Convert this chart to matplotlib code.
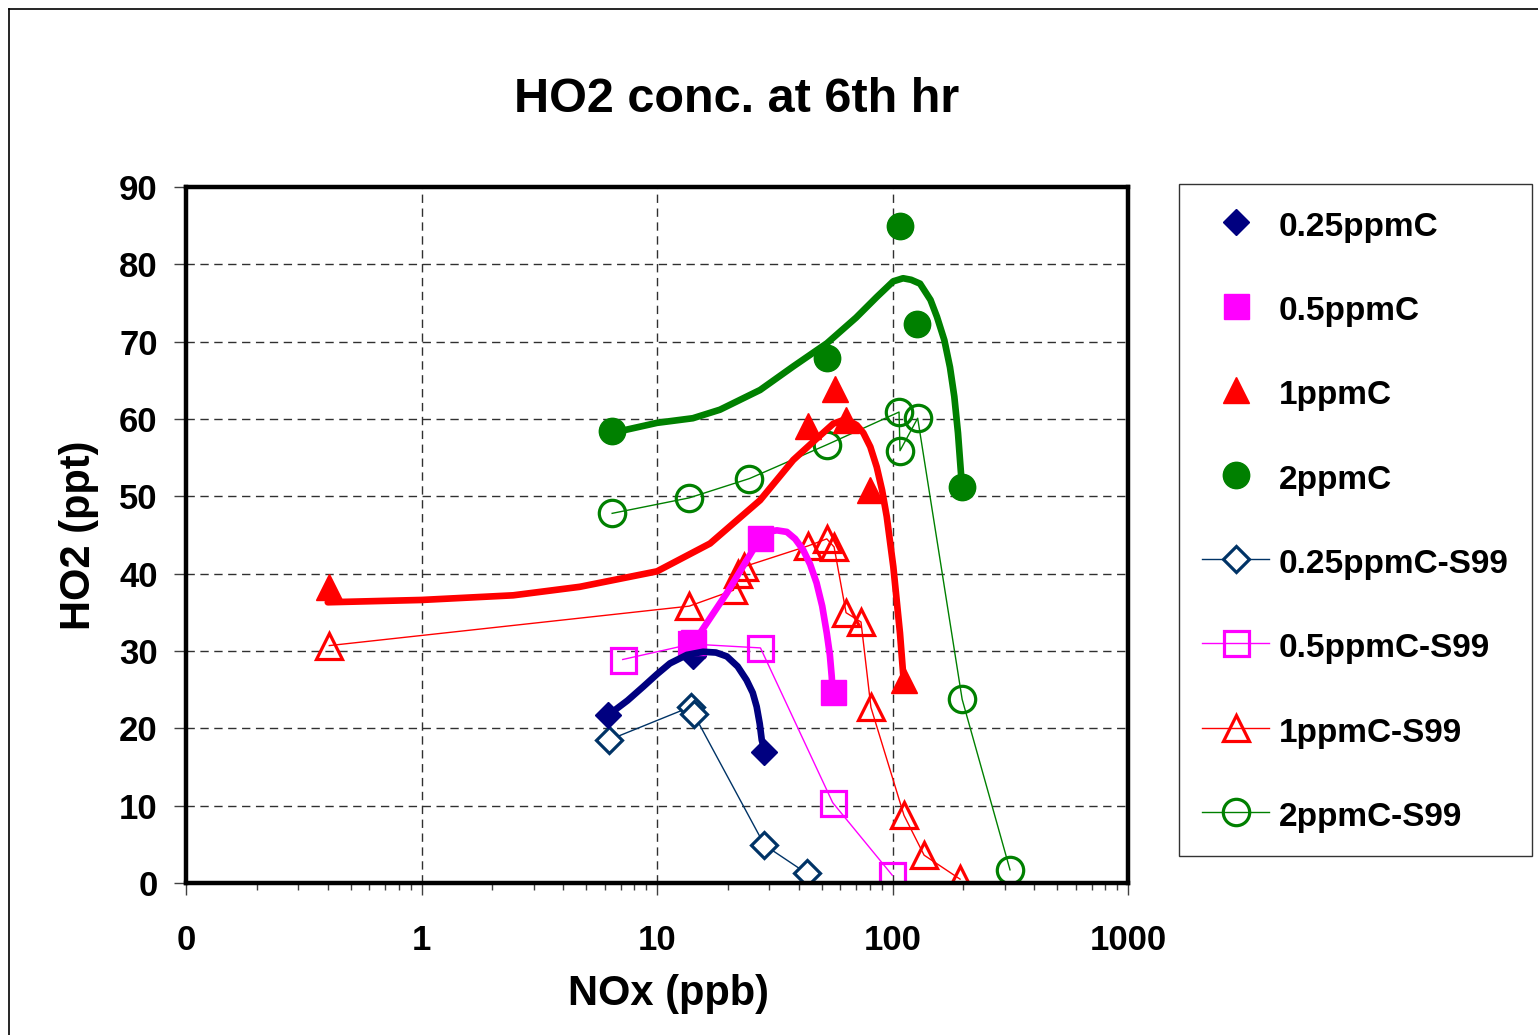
import numpy as np
import matplotlib.pyplot as plt
from matplotlib.lines import Line2D
from matplotlib.ticker import LogLocator, NullFormatter

plt.rcParams['font.family'] = ['Liberation Sans', 'DejaVu Sans']
plt.rcParams['font.weight'] = 'bold'

# ---- data ----
# filled series (base case)
nox_025 = [6.2, 14.2, 28.6]
ho2_025 = [21.7, 29.3, 17.0]
nox_05 = [14.2, 27.5, 55.7]
ho2_05 = [31.2, 44.6, 24.7]
nox_1 = [0.406, 43.9, 57.0, 63.5, 80.3, 112.2]
ho2_1 = [38.3, 59.1, 63.9, 59.9, 50.8, 26.2]
nox_2 = [6.45, 52.9, 107.6, 127.0, 197.6]
ho2_2 = [58.5, 67.9, 84.9, 72.3, 51.2]

# S99 series
nox_025s = [6.25, 13.95, 14.3, 28.6, 43.2]
ho2_025s = [18.5, 22.8, 21.9, 4.9, 1.25]
nox_05s = [7.15, 14.0, 27.5, 55.7, 99.8]
ho2_05s = [28.9, 30.9, 30.4, 10.4, 1.0]
nox_1s = [0.406, 13.7, 21.1, 22.1, 23.4, 43.9, 52.6, 56.5, 63.5, 73.5, 81.0, 111.9, 136.2, 193.6]
ho2_1s = [30.7, 35.8, 37.85, 40.0, 40.9, 43.6, 44.5, 43.45, 34.95, 33.75, 22.7, 8.75, 3.6, 0.5]
nox_2s = [6.45, 13.7, 24.7, 52.9, 106.6, 107.6, 127.9, 197.6, 315.5]
ho2_2s = [47.8, 49.8, 52.3, 56.7, 60.9, 55.9, 60.1, 23.75, 1.7]

# trend curves (traced)
cx_025 = [6.2, 7.5, 8.75, 10, 11.35, 13.4, 15.7, 17.8, 19.8, 22, 24.0, 25.5, 26.5, 27.3, 27.85, 28.6]
cy_025 = [21.7, 23.6, 25.4, 27.0, 28.4, 29.5, 29.9, 29.8, 29.3, 28.0, 26.25, 24.6, 22.8, 20.6, 18.5, 17.2]
cx_05 = [14.2, 15.23, 19.8, 25.6, 27.5, 29.2, 32.3, 35.6, 38.6, 41.7, 44.7, 47.6, 50.3, 52.6, 54.2, 55.2, 55.7]
cy_05 = [31.4, 32.3, 37.5, 43.1, 44.6, 45.4, 45.6, 45.4, 44.5, 43.1, 41.2, 38.8, 35.8, 32.3, 29.5, 26.7, 24.7]
cx_1 = [0.40, 1.0, 2.45, 4.7, 10, 16.8, 27.4, 37.9, 47, 56.1, 61, 66, 70.5, 75.2, 80.5, 85.7, 90.3, 94.5, 100.8, 107.6, 111]
cy_1 = [36.3, 36.6, 37.2, 38.3, 40.3, 43.9, 49.5, 54.7, 57.3, 59.4, 59.8, 59.7, 59.2, 58.2, 56.4, 53.8, 50.8, 47.4, 40.9, 32.3, 27.0]
cx_2 = [6.44, 10, 14.2, 18.5, 27.4, 37.9, 52.7, 70, 85.9, 100.7, 110.9, 120, 130.9, 145, 154.5, 166, 175.4, 183, 189.7, 197.3]
cy_2 = [58.2, 59.5, 60.1, 61.2, 63.75, 66.8, 69.8, 73.1, 75.8, 77.8, 78.2, 78.0, 77.5, 75.4, 73.2, 70.2, 66.7, 62.9, 58.2, 51.2]

navy = '#000080'
navy2 = '#003366'
pink = '#FF00FF'
red = '#FF0000'
green = '#008000'

fig = plt.figure(figsize=(15.38, 10.35), dpi=100)
ax = fig.add_axes([186/1538, 1-883/1035, (1128-186)/1538, (883-187)/1035])

# S99 series (thin lines, open markers)
h5, = ax.plot(nox_025s, ho2_025s, color=navy2, lw=1, marker='D', ms=13, mfc='white', mec=navy2, mew=2.3, label='0.25ppmC-S99')
h6, = ax.plot(nox_05s, ho2_05s, color=pink, lw=1, marker='s', ms=18, mfc='none', mec=pink, mew=2.3, label='0.5ppmC-S99')
h7, = ax.plot(nox_1s, ho2_1s, color=red, lw=1, marker='^', ms=19, mfc='none', mec=red, mew=2.3, label='1ppmC-S99')
h8, = ax.plot(nox_2s, ho2_2s, color=green, lw=1, marker='o', ms=19, mfc='none', mec=green, mew=2.3, label='2ppmC-S99')

# filled series
h1, = ax.plot(nox_025, ho2_025, ls='none', marker='D', ms=13, color=navy, label='0.25ppmC')
h2, = ax.plot(nox_05, ho2_05, ls='none', marker='s', ms=18, color=pink, label='0.5ppmC')
h3, = ax.plot(nox_1, ho2_1, ls='none', marker='^', ms=19, color=red, label='1ppmC')
h4, = ax.plot(nox_2, ho2_2, ls='none', marker='o', ms=19, color=green, label='2ppmC')

# trend curves
for cx, cy, c in [(cx_025, cy_025, navy), (cx_05, cy_05, pink), (cx_1, cy_1, red), (cx_2, cy_2, green)]:
    ax.plot(cx, cy, color=c, lw=4.8, solid_joinstyle='round', solid_capstyle='round')

ax.set_xscale('log')
ax.set_xlim(0.1, 1000)
ax.set_ylim(0, 90)
ax.set_xticks([0.1, 1, 10, 100, 1000])
ax.set_xticklabels(['0', '1', '10', '100', '1000'])
ax.xaxis.set_minor_locator(LogLocator(base=10, subs=np.arange(2, 10)))
ax.xaxis.set_minor_formatter(NullFormatter())
ax.set_yticks(np.arange(0, 91, 10))

ax.grid(True, which='major', color='#303030', lw=1, ls=(0, (6, 4)))
ax.tick_params(axis='both', which='major', labelsize=25, length=8.5, width=1, color='#404040')
ax.tick_params(axis='x', which='major', pad=21, direction='out')
ax.tick_params(axis='y', which='major', pad=12)
ax.tick_params(axis='x', which='minor', length=5, width=1, color='#404040')
for lab in ax.get_xticklabels() + ax.get_yticklabels():
    lab.set_fontweight('bold')
for s in ax.spines.values():
    s.set_linewidth(3.2)
    s.set_color('black')

ax.set_xlabel('NOx (ppb)', fontsize=30, fontweight='bold', labelpad=12, x=0.5117)
ax.set_ylabel('HO2 (ppt)', fontsize=30, fontweight='bold', labelpad=14)
fig.text(737/1538, 1-100/1035, 'HO2 conc. at 6th hr', fontsize=35, fontweight='bold', ha='center', va='center')

leg = fig.legend([h1, h2, h3, h4, h5, h6, h7, h8],
                 ['0.25ppmC', '0.5ppmC', '1ppmC', '2ppmC', '0.25ppmC-S99', '0.5ppmC-S99', '1ppmC-S99', '2ppmC-S99'],
                 loc='upper left', bbox_to_anchor=(1179/1538, 1-184/1035), bbox_transform=fig.transFigure,
                 frameon=True, fancybox=False, edgecolor='black', prop={'size': 24, 'weight': 'bold'},
                 handlelength=2.0, handleheight=1.2, handletextpad=0.3, borderpad=0.7, labelspacing=1.47,
                 borderaxespad=0)
leg.get_frame().set_linewidth(1)

# outer chart frame
fig.add_artist(Line2D([9/1538, 1], [1-9/1035, 1-9/1035], transform=fig.transFigure, color='black', lw=1.2))
fig.add_artist(Line2D([9/1538, 9/1538], [0, 1-9/1035], transform=fig.transFigure, color='black', lw=1.2))

fig.savefig('out.png', dpi=100)
